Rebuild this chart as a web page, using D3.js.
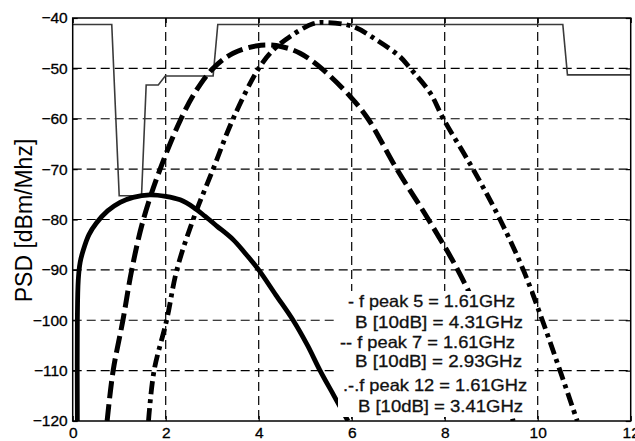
<!DOCTYPE html>
<html>
<head>
<meta charset="utf-8">
<script src="https://cdn.jsdelivr.net/npm/d3@7/dist/d3.min.js"></script>
<style>
  html, body { margin: 0; padding: 0; background: #fff; }
  svg { display: block; }
</style>
</head>
<body>
<svg id="chart" width="635" height="441"></svg>
<script>
// Axis ticks
const xTicks = [0, 2, 4, 6, 8, 10, 12];
const yTicks = [-40, -50, -60, -70, -80, -90, -100, -110, -120];

// FCC indoor emission mask [GHz, dBm/MHz]
const maskFreq  = [0, 0.84, 1.0, 1.48, 1.58, 1.84, 1.99, 3.02, 3.12, 10.54, 10.64, 12];
const maskLevel = [-41.3, -41.3, -75.3, -75.3, -53.3, -53.3, -51.5, -51.5, -41.3, -41.3, -51.3, -51.3];

// Pulse PSD, derivative order 5 (solid)
const freq5 = [0.1, 0.1, 0.12, 0.16, 0.23, 0.35, 0.51, 0.75, 1.02, 1.3, 1.66, 2.0, 2.31, 2.6, 2.85, 3.1, 3.45, 3.7, 4.0, 4.37, 4.74, 5.05, 5.32, 5.62, 5.92];
const psd5  = [-120, -100, -92, -88.5, -86, -83, -80.7, -78.3, -76.6, -75.6, -75.1, -75.4, -76.1, -77.6, -79.4, -81.3, -84, -86.6, -90, -95, -100, -105, -110, -115, -120];

// Pulse PSD, derivative order 7 (dashed)
const freq7 = [0.74, 0.87, 1.08, 1.27, 1.52, 1.88, 2.33, 2.65, 3.02, 3.45, 4.05, 4.5, 4.89, 5.35, 5.97, 6.35, 6.97, 7.65, 8.28, 8.8, 9.2, 9.47];
const psd7  = [-120, -110, -100, -90, -80, -70, -60, -54.5, -50, -47, -45.4, -45.7, -47, -50, -55.6, -60, -70, -80, -90, -100, -110, -120];

// Pulse PSD, derivative order 12 (dash-dot)
const freq12 = [1.63, 1.75, 2.02, 2.24, 2.59, 3.02, 3.45, 4.0, 4.32, 4.67, 5.18, 5.47, 6.03, 6.54, 7.04, 7.26, 7.69, 7.97, 8.61, 9.19, 9.69, 10.1, 10.48, 10.85];
const psd12  = [-120, -110, -100, -90, -80, -70, -60, -50, -46.3, -43.7, -41.1, -40.9, -41.7, -44.4, -47.7, -50, -54.9, -60, -70, -80, -90, -100, -110, -120];

// Annotation text
const noteLines = [
  "- f peak 5 = 1.61GHz",
  "B [10dB] = 4.31GHz",
  "-- f peak 7 = 1.61GHz",
  "B [10dB] = 2.93GHz",
  ".-.f peak 12 = 1.61GHz",
  "B [10dB] = 3.41GHz"
];

// ---- layout ----
const plot = { left: 72.7, right: 630.7, top: 18, bottom: 421 };
const noteLayout = [
  { x: 348, y: 307, w: 167 },
  { x: 355, y: 328, w: 168 },
  { x: 340, y: 348, w: 175 },
  { x: 355, y: 367, w: 167 },
  { x: 343, y: 391, w: 184 },
  { x: 358, y: 412, w: 165 }
];
const noteBox = { x: 338, y: 291, w: 192, h: 126 };
const fontFamily = "'Liberation Sans', Arial, Helvetica, sans-serif";

const svg = d3.select("#chart");

const x = d3.scaleLinear().domain([0, 12]).range([plot.left, plot.right]);
const y = d3.scaleLinear().domain([-120, -40]).range([plot.bottom, plot.top]);

svg.append("defs").append("clipPath").attr("id", "plotClip")
  .append("rect")
  .attr("x", plot.left).attr("y", plot.top)
  .attr("width", plot.right - plot.left).attr("height", plot.bottom - plot.top);

// Grid
const grid = svg.append("g").attr("class", "grid")
  .attr("stroke", "#000").attr("stroke-width", 1.2).attr("stroke-dasharray", "9,5");
grid.selectAll("line.gx").data(xTicks.slice(1, -1)).join("line")
  .attr("class", "gx")
  .attr("x1", d => x(d)).attr("x2", d => x(d))
  .attr("y1", plot.top).attr("y2", plot.bottom);
grid.selectAll("line.gy").data(yTicks.slice(1, -1)).join("line")
  .attr("class", "gy")
  .attr("y1", d => y(d)).attr("y2", d => y(d))
  .attr("x1", plot.left).attr("x2", plot.right);

// Curves
const zip = (xs, ys) => xs.map((v, i) => [v, ys[i]]);
const smooth = d3.line().x(d => x(d[0])).y(d => y(d[1])).curve(d3.curveCatmullRom.alpha(0.5));
const straight = d3.line().x(d => x(d[0])).y(d => y(d[1]));

const curves = svg.append("g").attr("clip-path", "url(#plotClip)").attr("fill", "none");

curves.append("path")
  .attr("d", straight(zip(maskFreq, maskLevel)))
  .attr("stroke", "#3a3a3a").attr("stroke-width", 1.6);

curves.append("path")
  .attr("d", smooth(zip(freq5, psd5)))
  .attr("stroke", "#000").attr("stroke-width", 4.8);

curves.append("path")
  .attr("d", smooth(zip(freq7, psd7)))
  .attr("stroke", "#000").attr("stroke-width", 5)
  .attr("stroke-dasharray", "17,6");

curves.append("path")
  .attr("d", smooth(zip(freq12, psd12)))
  .attr("stroke", "#000").attr("stroke-width", 4.8)
  .attr("stroke-dasharray", "13,5,4,5");

// Axes (inward ticks on all four sides)
const fmt = d3.format("d");
const styleAxis = g => {
  g.select(".domain").remove();
  g.selectAll(".tick line").attr("stroke", "#000").attr("stroke-width", 1.2);
  g.selectAll("text").attr("fill", "#000")
    .attr("stroke", "#000").attr("stroke-width", 0.3)
    .style("font-family", fontFamily).style("font-size", "15.5px");
};

svg.append("g").attr("transform", `translate(0,${plot.bottom})`)
  .call(d3.axisBottom(x).tickValues(xTicks).tickFormat(fmt).tickSize(-5).tickSizeOuter(0).tickPadding(6))
  .call(styleAxis);
svg.append("g").attr("transform", `translate(0,${plot.top})`)
  .call(d3.axisTop(x).tickValues(xTicks).tickFormat("").tickSize(-5).tickSizeOuter(0))
  .call(styleAxis);
svg.append("g").attr("transform", `translate(${plot.left},0)`)
  .call(d3.axisLeft(y).tickValues(yTicks).tickFormat(fmt).tickSize(-5).tickSizeOuter(0).tickPadding(5))
  .call(styleAxis);
svg.append("g").attr("transform", `translate(${plot.right},0)`)
  .call(d3.axisRight(y).tickValues(yTicks).tickFormat("").tickSize(-5).tickSizeOuter(0))
  .call(styleAxis);

// Frame
svg.append("rect")
  .attr("x", plot.left).attr("y", plot.top)
  .attr("width", plot.right - plot.left).attr("height", plot.bottom - plot.top)
  .attr("fill", "none").attr("stroke", "#000").attr("stroke-width", 1.5);

// Y axis title
svg.append("text")
  .attr("transform", `translate(32,${(plot.top + plot.bottom) / 2 + 1}) rotate(-90)`)
  .attr("text-anchor", "middle")
  .style("font-family", fontFamily).style("font-size", "23px")
  .attr("fill", "#000")
  .text("PSD [dBm/Mhz]");

// Annotation block with white background
svg.append("rect")
  .attr("x", noteBox.x).attr("y", noteBox.y)
  .attr("width", noteBox.w).attr("height", noteBox.h)
  .attr("fill", "#fff");
svg.append("g").selectAll("text").data(noteLines).join("text")
  .attr("x", (d, i) => noteLayout[i].x)
  .attr("y", (d, i) => noteLayout[i].y)
  .attr("textLength", (d, i) => noteLayout[i].w)
  .attr("lengthAdjust", "spacingAndGlyphs")
  .style("font-family", fontFamily).style("font-size", "16.5px")
  .attr("fill", "#111").attr("stroke", "#111").attr("stroke-width", 0.3)
  .text(d => d);
</script>
</body>
</html>
